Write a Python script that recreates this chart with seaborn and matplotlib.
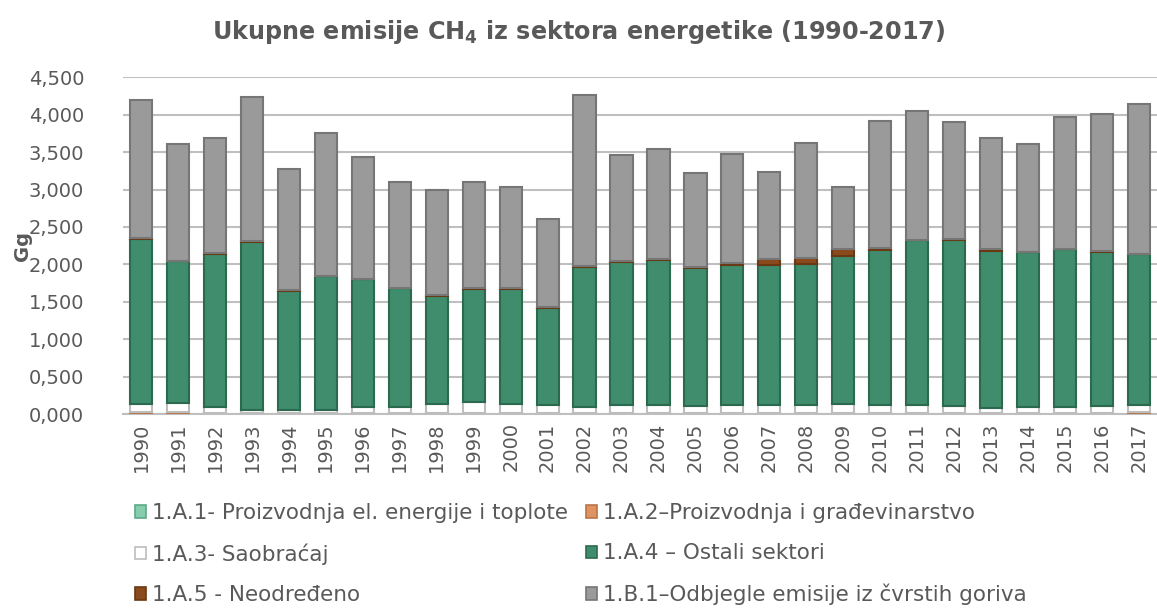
import numpy as np
import pandas as pd
import matplotlib
matplotlib.use("Agg")
import matplotlib.pyplot as plt
import seaborn as sns
from matplotlib.patches import Patch
from matplotlib.ticker import FuncFormatter, MultipleLocator

years = list(range(1990, 2018))

# Gg CH4 po podsektorima (procjena sa slike)
a1 = [0.005] * 28
a2 = [0.025, 0.025] + [0.01] * 25 + [0.025]
a3 = [0.100, 0.115, 0.075, 0.045, 0.045, 0.045, 0.075, 0.085, 0.115, 0.145,
      0.125, 0.105, 0.085, 0.105, 0.105, 0.095, 0.105, 0.105, 0.105, 0.115,
      0.105, 0.105, 0.095, 0.065, 0.085, 0.085, 0.095, 0.090]
a4 = [2.21, 1.895, 2.05, 2.24, 1.59, 1.78, 1.71, 1.58, 1.45, 1.51,
      1.53, 1.30, 1.87, 1.91, 1.94, 1.84, 1.87, 1.87, 1.88, 1.98,
      2.07, 2.20, 2.22, 2.10, 2.06, 2.10, 2.06, 2.02]
a5 = [0.01] * 16 + [0.03, 0.08, 0.09, 0.09, 0.03, 0.005, 0.005, 0.02,
                    0.005, 0.005, 0.005, 0.005]
b1 = [1.84, 1.56, 1.54, 1.92, 1.61, 1.90, 1.62, 1.41, 1.40, 1.42,
      1.35, 1.18, 2.28, 1.42, 1.47, 1.26, 1.45, 1.16, 1.53, 0.83,
      1.69, 1.73, 1.57, 1.49, 1.45, 1.77, 1.84, 2.00]

labels = ["1.A.1- Proizvodnja el. energije i toplote",
          "1.A.2–Proizvodnja i građevinarstvo",
          "1.A.3- Saobraćaj",
          "1.A.4 – Ostali sektori",
          "1.A.5 - Neodređeno",
          "1.B.1–Odbjegle emisije iz čvrstih goriva"]
series = [a1, a2, a3, a4, a5, b1]
fills = ["#86CDAE", "#E0935F", "#FFFFFF", "#3F8D6D", "#8B4A1C", "#9A9A9A"]
edges = ["#5FA888", "#B8764A", "#BDBDBD", "#2C6A50", "#6A3812", "#767676"]

sns.set_style("white")
plt.rcParams["font.family"] = ["DejaVu Sans"]
plt.rcParams["mathtext.default"] = "regular"

fig = plt.figure(figsize=(11.57, 6.10), dpi=100)
ax = fig.add_axes([0.1063, 0.3213, 0.8937, 0.552])

df = pd.DataFrame({"year": [str(y) for y in years]})
bottom = np.zeros(len(years))
for vals, lab, fc, ec in zip(series, labels, fills, edges):
    df["v"] = vals
    sns.barplot(data=df, x="year", y="v", bottom=bottom, color=fc,
                edgecolor=ec, linewidth=1.5, width=0.6, errorbar=None,
                saturation=1, ax=ax, zorder=3)
    bottom = bottom + np.array(vals)

ax.set_xlim(-0.49, 27.49)
ax.set_ylim(0, 4.5)
ax.yaxis.set_major_locator(MultipleLocator(0.5))
ax.yaxis.set_major_formatter(FuncFormatter(lambda v, p: f"{v:.3f}".replace(".", ",")))
ax.grid(axis="y", color="#BFBFBF", linewidth=1.5, zorder=0)
ax.set_axisbelow(True)
for s in ["top", "right", "left"]:
    ax.spines[s].set_visible(False)
ax.spines["bottom"].set_color("#BFBFBF")
ax.spines["bottom"].set_linewidth(1.5)
ax.tick_params(axis="y", length=0, pad=28, labelsize=14, labelcolor="#595959")
ax.tick_params(axis="x", length=0, pad=6, labelsize=14, labelcolor="#595959",
               rotation=90)
ax.set_xlabel("")
ax.set_ylabel("Gg", fontsize=14, fontweight="bold", color="#595959")
ax.yaxis.set_label_coords(-0.088, 0.5)

fig.text(0.5, 0.947, "Ukupne emisije CH$_4$ iz sektora energetike (1990-2017)",
         ha="center", va="center", fontsize=17.2, fontweight="bold",
         color="#595959")

handles = [Patch(facecolor=fc, edgecolor=ec, linewidth=1.2)
           for fc, ec in zip(fills, edges)]
order = [0, 2, 4, 1, 3, 5]
fig.legend([handles[i] for i in order], [labels[i] for i in order],
           loc="upper left", bbox_to_anchor=(0.1167, 0.175), ncol=2, frameon=False,
           fontsize=15.5, labelcolor="#595959", handlelength=0.5,
           handleheight=0.5, handletextpad=0.28, labelspacing=0.94,
           columnspacing=0.85, borderaxespad=0, borderpad=0)

fig.savefig("out.png", dpi=100)
